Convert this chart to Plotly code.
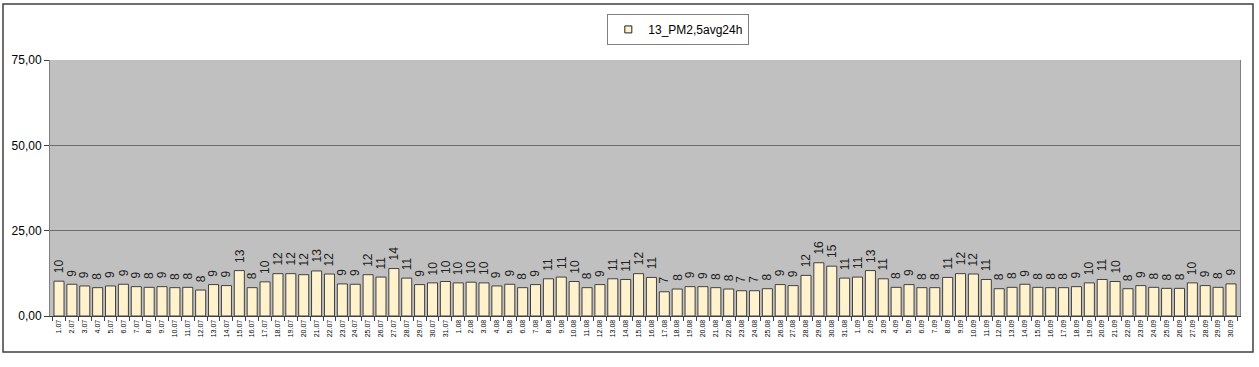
import plotly.graph_objects as go

days_jul = [f"{d}.07" for d in range(1, 32)]
days_aug = [f"{d}.08" for d in range(1, 32)]
days_sep = [f"{d}.09" for d in range(1, 31)]
categories = days_jul + days_aug + days_sep

values_jul = [10.2, 9.3, 8.8, 8.3, 8.8, 9.3, 8.6, 8.4, 8.6, 8.3, 8.4, 7.6, 9.2, 8.9, 13.3,
              8.3, 10.0, 12.4, 12.4, 12.1, 13.2, 12.3, 9.4, 9.3, 12.1, 11.4, 13.9, 11.1,
              9.2, 9.7, 10.1]
values_aug = [9.7, 9.9, 9.7, 8.8, 9.3, 8.3, 9.2, 10.9, 11.4, 10.1, 8.3, 9.2, 10.9, 10.7,
              12.4, 11.3, 7.1, 7.9, 8.6, 8.6, 8.3, 7.9, 7.4, 7.4, 8.0, 9.2, 8.9, 11.9,
              15.6, 14.6, 11.1]
values_sep = [11.4, 13.3, 10.9, 8.4, 9.2, 8.3, 8.3, 11.3, 12.4, 12.3, 10.7, 8.0, 8.4, 9.3,
              8.4, 8.3, 8.3, 8.6, 9.7, 10.7, 10.1, 8.0, 8.9, 8.4, 8.1, 8.1, 9.7, 8.9,
              8.4, 9.4]
values = values_jul + values_aug + values_sep
series_name = "13_PM2,5avg24h"
y_ticks = [0, 25, 50, 75]

W, H = 1259, 367
L, R, T, B = 50, 19, 60, 51
BAR_FILL = "#FFF2CC"

fig = go.Figure()
fig.add_trace(go.Bar(
    x=categories, y=values, name=series_name,
    marker=dict(color=BAR_FILL, line=dict(color="#404040", width=1)),
    showlegend=False,
))
# legend entry with a small square swatch
fig.add_trace(go.Scatter(
    x=[None], y=[None], mode="markers", name=series_name,
    marker=dict(symbol="square", size=7, color=BAR_FILL, line=dict(color="#202020", width=1)),
    showlegend=True,
))

# value labels above bars (category index positions on the category axis)
annotations = [
    dict(x=i, y=v, xref="x", yref="y", text=f"{round(v):d}", textangle=-90,
         showarrow=False, yanchor="bottom", xanchor="center", yshift=6,
         font=dict(family="Arial, Liberation Sans", size=12, color="#202020"))
    for i, v in enumerate(values)
]

fig.update_layout(
    width=W, height=H,
    margin=dict(l=L, r=R, t=T, b=B, autoexpand=False),
    paper_bgcolor="white", plot_bgcolor="#C0C0C0",
    separators=",.",
    bargap=0.22,
    font=dict(family="Arial, Liberation Sans", color="#000000"),
    annotations=annotations,
    legend=dict(
        x=0.528, y=1.18, xanchor="center", yanchor="top",
        bgcolor="white", bordercolor="#808080", borderwidth=1,
        font=dict(size=12), orientation="h", itemwidth=30,
    ),
    xaxis=dict(
        type="category", tickangle=-90, tickfont=dict(size=7),
        ticks="outside", ticklen=4, tickcolor="#404040", tickson="boundaries",
        showline=True, linecolor="#404040", linewidth=1, mirror=False,
        showgrid=False, fixedrange=True,
    ),
    yaxis=dict(
        range=[0, 75], tickvals=y_ticks, tickformat=".2f",
        tickfont=dict(size=12), ticks="outside", ticklen=5, tickcolor="#404040",
        showgrid=True, gridcolor="#6E6E6E", gridwidth=1,
        showline=True, linecolor="#808080", mirror=True,
        zeroline=False,
    ),
    shapes=[dict(
        type="rect", xref="paper", yref="paper",
        x0=(3 - L) / (W - L - R), x1=(1253 - L) / (W - L - R),
        y0=(H - B - 352) / (H - T - B), y1=(H - B - 4) / (H - T - B),
        line=dict(color="#404040", width=1.5), fillcolor="rgba(0,0,0,0)",
        layer="below",
    )],
)

fig.write_html("out.html", config={"displayModeBar": False},
               post_script="document.body.style.margin='0';document.body.style.overflow='hidden';")
